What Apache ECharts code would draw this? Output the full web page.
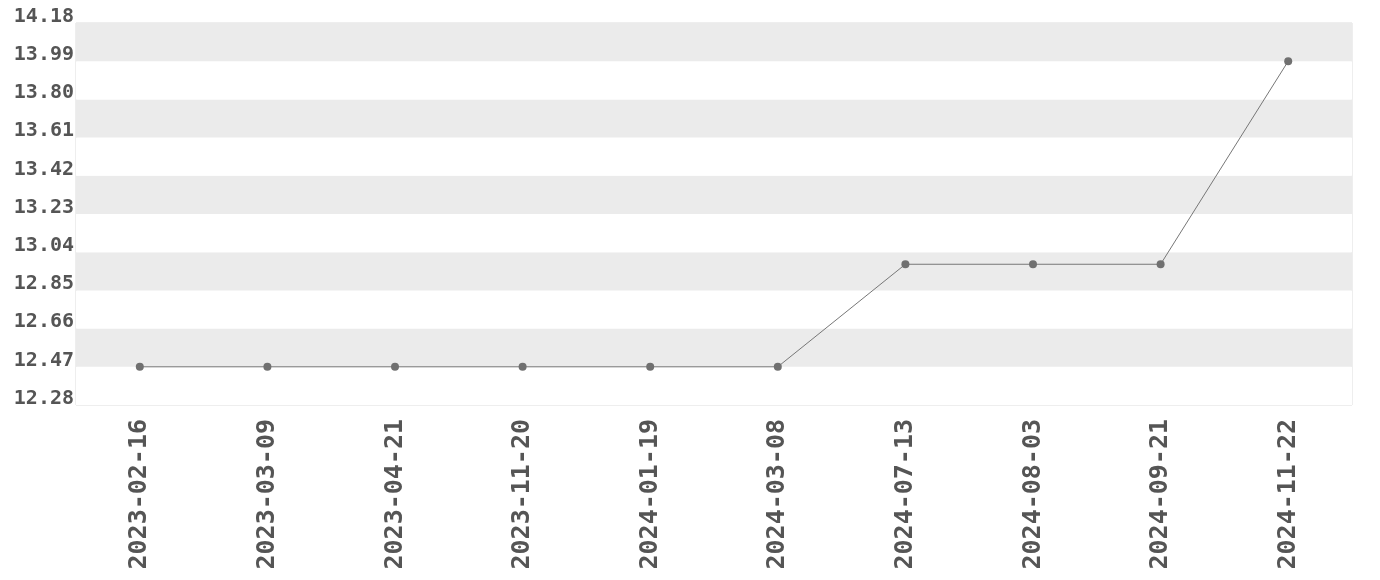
<!DOCTYPE html>
<html>
<head>
<meta charset="utf-8">
<script src="https://cdn.jsdelivr.net/npm/echarts@6/dist/echarts.min.js"></script>
<style>
  html, body { margin: 0; padding: 0; background: #fff; }
  #chart { width: 1380px; height: 580px; }
</style>
</head>
<body>
<div id="chart"></div>
<script>
// 日期
const dates = [
  "2023-02-16", "2023-03-09", "2023-04-21", "2023-11-20", "2024-01-19",
  "2024-03-08", "2024-07-13", "2024-08-03", "2024-09-21", "2024-11-22"
];
// 数值
const values = [12.47, 12.47, 12.47, 12.47, 12.47, 12.47, 12.98, 12.98, 12.98, 13.99];
// y轴刻度
const yMin = 12.28;
const yMax = 14.18;
const yStep = 0.19;

const chart = echarts.init(document.getElementById("chart"));
const font = "'DejaVu Sans Mono', 'Liberation Mono', monospace";

// 以 yMin 为基准画，标签再加回去
const option = {
  animation: false,
  grid: {
    left: 76,
    right: 28,
    top: 23,
    bottom: 175,
    show: true,
    borderColor: "#dddddd",
    borderWidth: 1,
  },
  xAxis: {
    type: "category",
    data: dates,
    boundaryGap: true,
    axisLine: { show: false },
    axisTick: { show: false },
    axisLabel: {
      rotate: 90,
      margin: 14,
      color: "#555",
      fontFamily: font,
      fontWeight: "bold",
      fontSize: 25,
      interval: 0,
    },
  },
  yAxis: {
    type: "value",
    min: 0,
    max: +(yMax - yMin).toFixed(2),
    interval: yStep,
    axisLine: { show: false },
    axisTick: { show: false },
    splitLine: { show: false },
    splitArea: {
      show: true,
      areaStyle: { color: ["#ffffff", "#ebebeb"] },
    },
    axisLabel: {
      margin: 2,
      color: "#555",
      fontFamily: font,
      fontWeight: "bold",
      fontSize: 20,
      verticalAlign: "bottom",
      lineHeight: 13,
      formatter: (v) => (v + yMin).toFixed(2),
    },
  },
  series: [
    {
      type: "line",
      data: values.map((v) => +(v - yMin).toFixed(4)),
      symbol: "circle",
      symbolSize: 8,
      itemStyle: { color: "#707070" },
      lineStyle: { color: "#777", width: 1 },
    },
  ],
};
chart.setOption(option);
</script>
</body>
</html>
